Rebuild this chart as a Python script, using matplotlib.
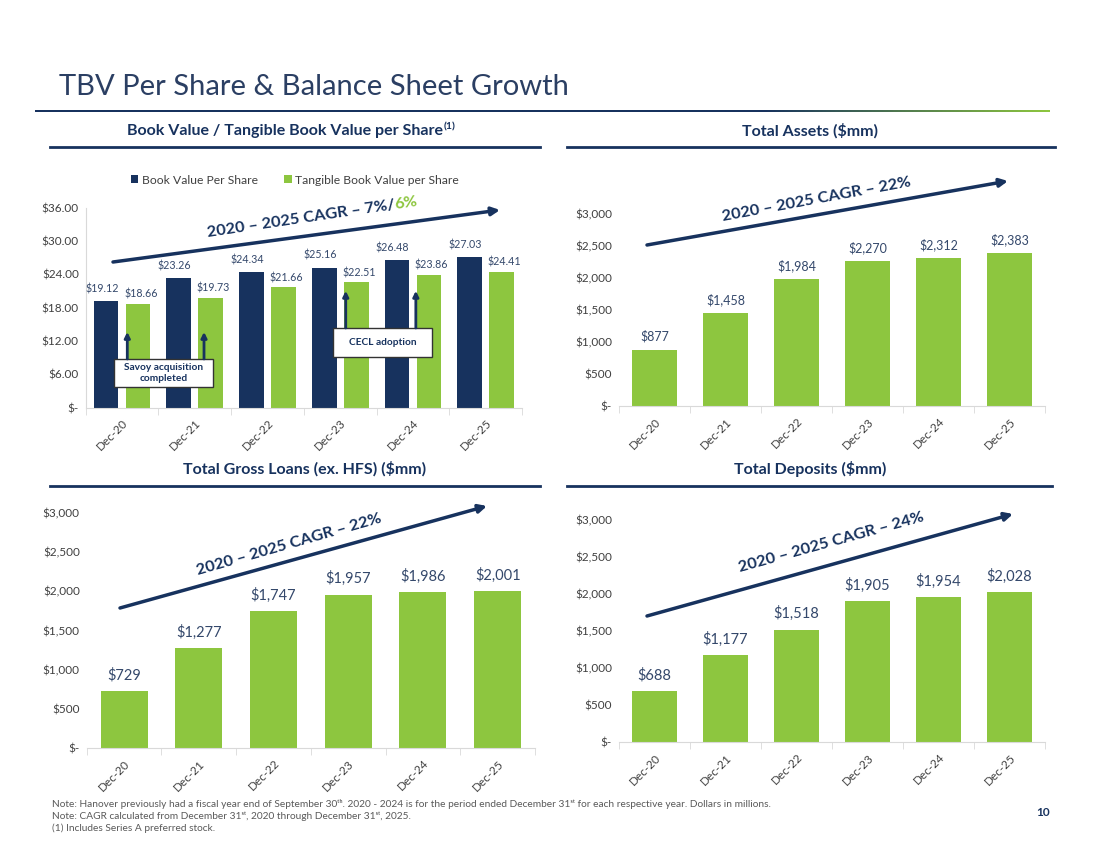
import matplotlib.pyplot as plt
import numpy as np
from matplotlib.colors import LinearSegmentedColormap
from matplotlib.patches import FancyArrowPatch, Rectangle

plt.rcParams['font.family'] = ['Lato', 'DejaVu Sans']

NAVY = '#17325e'
GREEN = '#8dc63f'
TXT = '#34486b'
GRAY = '#404040'
AXIS = '#d9d9d9'

periods = ['Dec-20', 'Dec-21', 'Dec-22', 'Dec-23', 'Dec-24', 'Dec-25']
book_value = [19.12, 23.26, 24.34, 25.16, 26.48, 27.03]
tangible_book = [18.66, 19.73, 21.66, 22.51, 23.86, 24.41]
total_assets = [877, 1458, 1984, 2270, 2312, 2383]
gross_loans = [729, 1277, 1747, 1957, 1986, 2001]
total_deposits = [688, 1177, 1518, 1905, 1954, 2028]

W, H = 1100, 849
fig = plt.figure(figsize=(11, 8.49), dpi=100)


def px_axes(left, top, right, bottom):
    return fig.add_axes([left / W, 1 - bottom / H, (right - left) / W, (bottom - top) / H])


def money(v, dec):
    if v == 0:
        return '$-'
    return f'${v:,.{dec}f}'


def style(ax, ymax, step, dec, left_spine=False):
    ax.set_xlim(-0.5, 5.5)
    ax.set_ylim(0, ymax)
    ticks = np.arange(0, ymax + step / 2, step)
    ax.set_yticks(ticks)
    ax.set_yticklabels([money(t, dec) for t in ticks], fontsize=8.5, color=GRAY)
    ax.tick_params(axis='y', length=0, pad=5)
    ax.set_xticks(np.arange(len(periods)))
    ax.set_xticklabels(periods, rotation=45, ha='right', rotation_mode='anchor',
                       fontsize=8.5, color=GRAY)
    ax.set_xticks(np.arange(-0.5, 6, 1), minor=True)
    ax.tick_params(axis='x', which='major', length=0, pad=7)
    ax.tick_params(axis='x', which='minor', length=5, color=AXIS, direction='out')
    for s in ['top', 'right']:
        ax.spines[s].set_visible(False)
    ax.spines['left'].set_visible(left_spine)
    ax.spines['left'].set_color(AXIS)
    ax.spines['bottom'].set_color(AXIS)
    ax.patch.set_alpha(0)


x = np.arange(len(periods))

# --- Book value / TBV per share
ax1 = px_axes(85.7, 207.5, 522, 407.5)
b1 = ax1.bar(x - 0.22, book_value, 0.34, color=NAVY, label='Book Value Per Share')
b2 = ax1.bar(x + 0.22, tangible_book, 0.34, color=GREEN, label='Tangible Book Value per Share')
for xi, v in zip(x, book_value):
    ax1.annotate(money(v, 2), (xi - 0.22, v), xytext=(-3, 5), textcoords='offset points',
                 ha='center', va='bottom', fontsize=7.7, color=TXT)
for xi, v in zip(x, tangible_book):
    ax1.annotate(money(v, 2), (xi + 0.22, v), xytext=(2, 3), textcoords='offset points',
                 ha='center', va='bottom', fontsize=7.7, color=TXT)
style(ax1, 36, 6, 2, left_spine=True)
fig.legend(handles=[b1, b2], loc='center', bbox_to_anchor=(295 / W, 1 - 180 / H), ncol=2,
           frameon=False, fontsize=8.7, handlelength=0.6, handleheight=0.6, handletextpad=0.3,
           columnspacing=2.2, labelcolor=GRAY)

# annotation boxes and arrows
ax1.add_patch(Rectangle((-0.11, 3.69), 1.36, 5.04, fc='white', ec='#333333', lw=1, zorder=4))
ax1.text(0.57, 6.2, 'Savoy acquisition\ncompleted', ha='center', va='center', fontsize=7.3,
         fontweight='bold', color=NAVY, zorder=5, linespacing=1.2)
ax1.add_patch(Rectangle((2.90, 9.09), 1.36, 5.22, fc='white', ec='#333333', lw=1, zorder=4))
ax1.text(3.58, 11.7, 'CECL adoption', ha='center', va='center', fontsize=7.3,
         fontweight='bold', color=NAVY, zorder=5)
for ax_x, y0, y1 in [(0.072, 8.73, 13.6), (1.127, 8.73, 13.6), (3.076, 14.31, 21.0), (4.04, 14.31, 21.0)]:
    ax1.annotate('', xy=(ax_x, y1), xytext=(ax_x, y0), zorder=5,
                 arrowprops=dict(arrowstyle='-|>', color=NAVY, lw=2, mutation_scale=8,
                                 shrinkA=0, shrinkB=0))

# --- Total assets
ax2 = px_axes(619, 214, 1045, 406)
b = ax2.bar(x, total_assets, 0.62, color=GREEN)
ax2.bar_label(b, labels=[money(v, 0) for v in total_assets], padding=5, fontsize=9, color=TXT)
style(ax2, 3000, 500, 0)

# --- Gross loans
ax3 = px_axes(86.7, 513, 535, 748)
b = ax3.bar(x, gross_loans, 0.63, color=GREEN)
ax3.bar_label(b, labels=[money(v, 0) for v in gross_loans], padding=6, fontsize=10.5, color=TXT)
style(ax3, 3000, 500, 0)

# --- Deposits
ax4 = px_axes(619, 520, 1045, 742)
b = ax4.bar(x, total_deposits, 0.62, color=GREEN)
ax4.bar_label(b, labels=[money(v, 0) for v in total_deposits], padding=6, fontsize=10.5, color=TXT)
style(ax4, 3000, 500, 0)

# --- title rule with navy-to-green fade
rule = px_axes(35, 109.5, 1050, 112.5)
cmap = LinearSegmentedColormap.from_list('rule', [(0, NAVY), (0.72, NAVY), (1, GREEN)])
rule.imshow(np.linspace(0, 1, 500)[None, :], cmap=cmap, aspect='auto', interpolation='bilinear')
rule.axis('off')

# --- overlay in pixel coordinates for page furniture
ov = fig.add_axes([0, 0, 1, 1])
ov.set_xlim(0, W)
ov.set_ylim(H, 0)
ov.axis('off')
ov.patch.set_alpha(0)

ov.text(59, 87, 'TBV Per Share & Balance Sheet Growth', fontsize=21, color='#2b3f63',
        ha='left', va='center')

headers = [(443, 131, 'Book Value / Tangible Book Value per Share', True),
           (810, 131, 'Total Assets ($mm)', False),
           (305, 469, 'Total Gross Loans (ex. HFS) ($mm)', False),
           (810, 469, 'Total Deposits ($mm)', False)]
for hx, hy, txt, note in headers:
    if note:
        ov.text(hx, hy, txt, fontsize=11.5, fontweight='bold', color=NAVY, ha='right', va='center')
        ov.text(hx + 1, hy - 4, '(1)', fontsize=7.5, fontweight='bold', color=NAVY, ha='left', va='center')
    else:
        ov.text(hx, hy, txt, fontsize=11.5, fontweight='bold', color=NAVY, ha='center', va='center')

for x0, x1, y in [(50, 540, 147), (567, 1055, 147), (50, 540, 486), (567, 1052, 486)]:
    ov.plot([x0, x1], [y, y], color=NAVY, lw=2)

# CAGR arrows and labels
arrows = [((113, 262), (500, 210)), ((647, 245), (1008, 181)),
          ((120, 608), (487, 506)), ((647, 616), (1013, 514))]
for p0, p1 in arrows:
    ov.add_patch(FancyArrowPatch(p0, p1, arrowstyle='-|>', mutation_scale=12, color=NAVY,
                                 lw=2.5, shrinkA=0, shrinkB=0))

cagr_kw = dict(fontsize=11.8, fontweight='bold', color=NAVY, rotation_mode='anchor')
ov.text(817, 200, '2020 – 2025 CAGR – 22%', rotation=10.5, ha='center', va='center', **cagr_kw)
ov.text(289, 545, '2020 – 2025 CAGR – 22%', rotation=16, ha='center', va='center', **cagr_kw)
ov.text(831, 543, '2020 – 2025 CAGR – 24%', rotation=15.5, ha='center', va='center', **cagr_kw)

# two-colour label on the per-share chart
ang = 8.5
start = (208, 237)
ov.text(*start, '2020 – 2025 CAGR – 7%/', rotation=ang, ha='left', va='baseline', **cagr_kw)
probe = ov.text(0, 0, '2020 – 2025 CAGR – 7%/', fontsize=11.8, fontweight='bold')
fig.canvas.draw()
wpx = probe.get_window_extent().width
probe.remove()
rad = np.deg2rad(ang)
ov.text(start[0] + wpx * np.cos(rad), start[1] - wpx * np.sin(rad), '6%', rotation=ang,
        ha='left', va='baseline', fontsize=11.8, fontweight='bold', color=GREEN,
        rotation_mode='anchor')

notes = ['Note: Hanover previously had a fiscal year end of September 30ᵗʰ. 2020 - 2024 is for the period '
         'ended December 31ˢᵗ for each respective year. Dollars in millions.',
         'Note: CAGR calculated from December 31ˢᵗ, 2020 through December 31ˢᵗ, 2025.',
         '(1) Includes Series A preferred stock.']
for i, n in enumerate(notes):
    ov.text(52, 804 + i * 12, n, fontsize=7.3, color='#595959', ha='left', va='center')

ov.text(1043, 812, '10', fontsize=8.5, fontweight='bold', color=NAVY, ha='center', va='center')

fig.savefig('out.png', dpi=100)
